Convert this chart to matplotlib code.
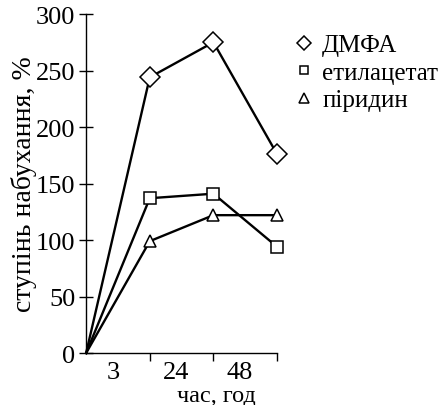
import matplotlib
matplotlib.use("Agg")
import matplotlib.pyplot as plt

# дані: час набухання (категорії) та ступінь набухання, %
time_labels = ["3", "24", "48"]
dmfa = [0, 244, 275, 176]
ethyl_acetate = [0, 137, 141, 94]
pyridine = [0, 99, 122, 122]

plt.rcParams['font.family'] = 'serif'
plt.rcParams['font.serif'] = ['Liberation Serif', 'DejaVu Serif']
plt.rcParams['font.size'] = 19

fig = plt.figure(figsize=(4.44, 4.06), dpi=100)
ax = fig.add_axes([0.194, 0.128, 0.430, 0.835])

x = list(range(len(dmfa)))
series = [(dmfa, 'D', 10, 'ДМФА'),
          (ethyl_acetate, 's', 8.5, 'етилацетат'),
          (pyridine, '^', 9, 'піридин')]
for vals, m, ms, lab in series:
    ax.plot(x, vals, color='black', lw=1.7, clip_on=False, zorder=2)
    ax.plot(x[1:], vals[1:], ls='none', marker=m, ms=ms, mfc='white', mec='black',
            mew=1.1, label=lab, clip_on=False, zorder=3)

ax.set_xlim(0, len(dmfa) - 1)
ax.set_ylim(0, 300)
ax.set_yticks(range(0, 301, 50))
ax.set_xticks(x[1:])
ax.set_xticklabels([])
ax.set_xticks([i + 0.42 for i in range(len(time_labels))], minor=True)
ax.set_xticklabels(time_labels, minor=True)

ax.spines['top'].set_visible(False)
ax.spines['right'].set_visible(False)
for s in ax.spines.values():
    s.set_linewidth(1.0)
ax.tick_params(axis='y', direction='inout', length=9.5, width=1.0, pad=3)
ax.tick_params(axis='x', which='major', direction='out', length=6, width=1.0)
ax.tick_params(axis='x', which='minor', length=0, pad=6)

ax.set_ylabel('ступінь набухання, %', fontsize=20, labelpad=-1)
ax.set_xlabel('час, год', fontsize=17.5)
ax.xaxis.set_label_coords(0.68, -0.093)

leg = ax.legend(loc='upper left', bbox_to_anchor=(0.64, 0.945), bbox_transform=fig.transFigure,
                frameon=False, handlelength=0.6, handletextpad=0.42, labelspacing=0.2,
                markerscale=0.75, borderpad=0, fontsize=18)

fig.savefig('out.png', dpi=100)
